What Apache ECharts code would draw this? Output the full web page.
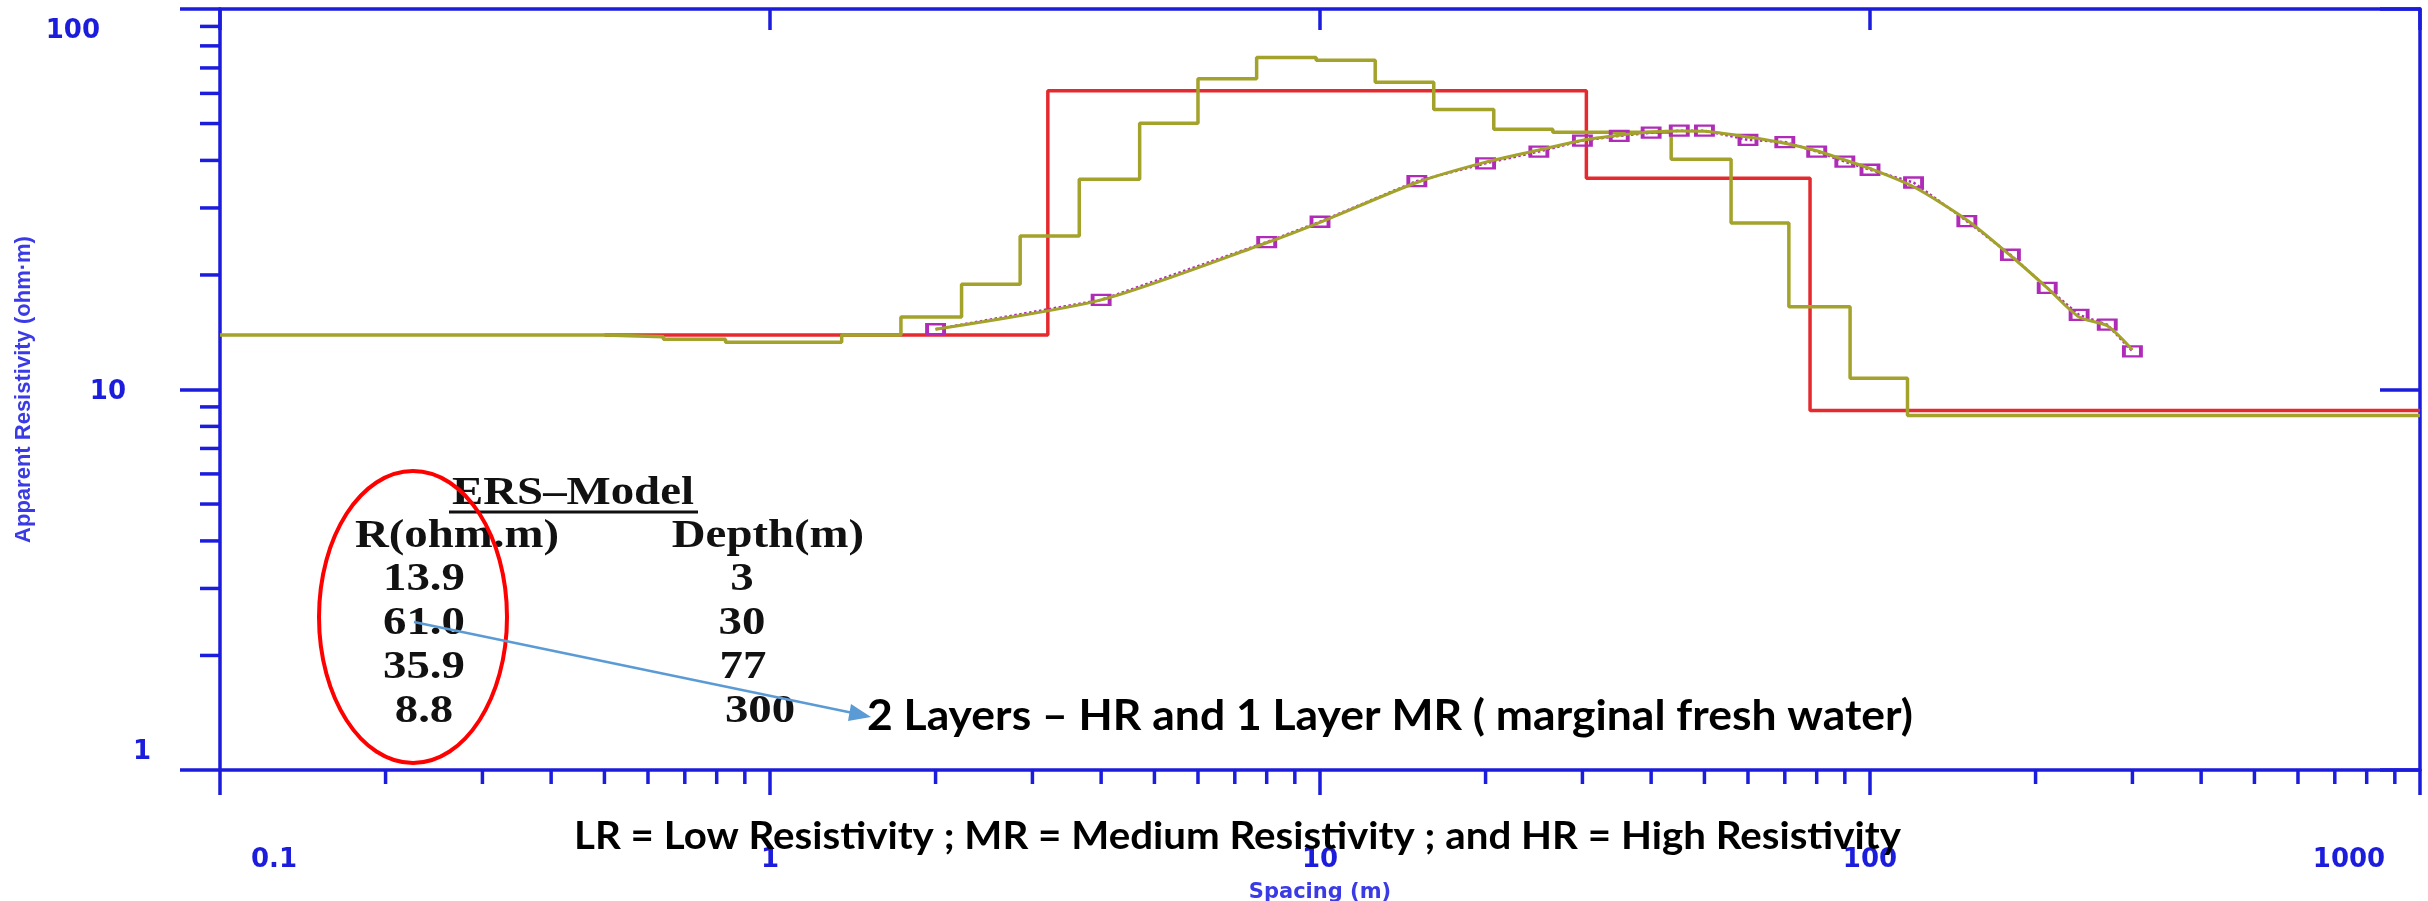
<!DOCTYPE html>
<html>
<head>
<meta charset="utf-8">
<title>Apparent resistivity sounding curve</title>
<script src="https://cdn.jsdelivr.net/npm/echarts@6/dist/echarts.min.js"></script>
<style>
  html, body { margin: 0; padding: 0; background: #fff; }
  #chart { width: 2428px; height: 901px; }
</style>
</head>
<body>
<div id="chart"></div>
<script>
// field sounding: AB/2 spacing (m) and apparent resistivity (ohm.m)
const spacing = [2, 4, 8, 10, 15, 20, 25, 30, 35, 40, 45, 50, 60, 70, 80, 90, 100, 120, 150, 180, 210, 240, 270, 300];
const rhoObserved = [14.4, 17.2, 24.4, 27.6, 35.3, 39.3, 42.2, 45.1, 46.4, 47.3, 47.9, 47.9, 45.3, 44.7, 42.2, 39.7, 37.8, 35.0, 27.7, 22.6, 18.5, 15.7, 14.8, 12.6];
// calculated (fitted) curve
const rhoCalculated = [14.4, 17.2, 24.3, 27.5, 35.0, 39.6, 42.6, 45.2, 46.6, 47.5, 47.8, 47.7, 46.1, 44.4, 42.4, 40.1, 38.1, 34.1, 27.9, 22.5, 18.5, 15.5, 14.7, 12.7];

// layered model (red steps): start depth of each layer and its resistivity
const modelTop = [0.5, 3.2, 30.5, 77.8, 1000];
const modelRho = [13.9, 61.0, 35.9, 8.8, 8.8];

// multi-layer equivalent model (olive steps)
const stepTop = [0.1, 0.5, 0.64, 0.83, 1.35, 1.73, 2.23, 2.85, 3.65, 4.7, 6.0, 7.67, 9.84, 12.6, 16.1, 20.7, 26.5, 43.5, 55.9, 71.2, 92.0, 117, 1000];
const stepRho = [13.9, 13.77, 13.55, 13.3, 13.9, 15.5, 18.9, 25.3, 35.7, 50.1, 65.6, 74.6, 73.3, 64.2, 54.4, 48.3, 47.4, 40.3, 27.4, 16.5, 10.7, 8.55, 8.55];

// ERS model table
const tableRes = ['13.9', '61.0', '35.9', '8.8'];
const tableDepth = ['3', '30', '77', '300'];

// minor tick values
const xMinorTicks = [0.2, 0.3, 0.4, 0.5, 0.6, 0.7, 0.8, 0.9, 2, 3, 4, 5, 6, 7, 8, 9,
  20, 30, 40, 50, 60, 70, 80, 90, 200, 300, 400, 500, 600, 700, 800, 900];
const yMinorTicks = [2, 3, 4, 5, 6, 7, 8, 9, 20, 30, 40, 50, 60, 70, 80, 90];

const BLUE = '#1c1cdc';
const RED = '#e52a2f';
const OLIVE = '#a3a22a';
const PURPLE = '#b02cb8';
const ARROW = '#5b9bd5';

// width fitting for the slide texts
const measureCtx = document.createElement('canvas').getContext('2d');
function fitScale(str, font, target) {
  measureCtx.font = font;
  return target / measureCtx.measureText(str).width;
}

const chart = echarts.init(document.getElementById('chart'));

const labelFont = { color: BLUE, fontFamily: 'DejaVu Sans', fontWeight: 'bold', fontSize: 26 };

// table texts
const serif = 'Liberation Serif';
const rowY = [580, 624, 668, 712];
const depthX = [742, 742, 743, 760];
const tableTexts = [];
tableRes.forEach((t, i) => {
  tableTexts.push({
    type: 'text', x: 424, y: rowY[i], scaleX: 1.17, z: 50,
    style: { text: t, fill: '#111', fontFamily: serif, fontWeight: 'bold', fontSize: 40, align: 'center', verticalAlign: 'middle' }
  });
  tableTexts.push({
    type: 'text', x: depthX[i], y: rowY[i], scaleX: 1.17, z: 50,
    style: { text: tableDepth[i], fill: '#111', fontFamily: serif, fontWeight: 'bold', fontSize: 40, align: 'center', verticalAlign: 'middle' }
  });
});

const noteText = '2 Layers \u2013 HR and 1 Layer MR ( marginal fresh water)';
const legendText = 'LR = Low Resistivity ; MR = Medium Resistivity ; and HR = High Resistivity';

chart.setOption({
  animation: false,
  backgroundColor: '#fff',
  grid: { left: 220, right: 8, top: 9, bottom: 131, containLabel: false, outerBoundsMode: 'none' },
  xAxis: [
    {
      type: 'log', logBase: 10, min: 0.1, max: 1000, position: 'bottom',
      axisLine: { show: true, onZero: false, lineStyle: { color: BLUE, width: 3.5 } },
      axisTick: { show: true, length: 25, lineStyle: { color: BLUE, width: 3.5 } },
      minorTick: { show: false }, splitLine: { show: false },
      axisLabel: Object.assign({
        margin: 77, showMinLabel: true, showMaxLabel: true,
        formatter: function (v) {
          const e = Math.round(Math.log10(v));
          if (e === -1) return '{lo|0.1}';
          if (e === 3) return '{hi|1000}';
          return '{n|' + Math.pow(10, e) + '}';
        },
        rich: {
          lo: { padding: [0, 0, 0, 108] },
          hi: { padding: [0, 142, 0, 0] },
          n: {}
        }
      }, labelFont),
      name: 'Spacing (m)', nameLocation: 'middle', nameGap: 112,
      nameTextStyle: { color: '#3a3ae6', fontFamily: 'DejaVu Sans', fontWeight: 'bold', fontSize: 21 }
    },
    {
      type: 'log', logBase: 10, min: 0.1, max: 1000, position: 'top',
      axisLine: { show: true, onZero: false, lineStyle: { color: BLUE, width: 3.5 } },
      axisTick: { show: true, inside: true, length: 21, lineStyle: { color: BLUE, width: 3.5 } },
      axisLabel: { show: false }, splitLine: { show: false }
    }
  ],
  yAxis: [
    {
      type: 'log', logBase: 10, min: 1, max: 100, position: 'left',
      axisLine: { show: true, onZero: false, lineStyle: { color: BLUE, width: 3.5 } },
      axisTick: { show: true, length: 40, lineStyle: { color: BLUE, width: 3.5 } },
      minorTick: { show: false }, splitLine: { show: false },
      axisLabel: Object.assign({
        margin: 69, showMinLabel: true, showMaxLabel: true,
        formatter: function (v) {
          const e = Math.round(Math.log10(v));
          if (e === 2) return '{a|100}';
          if (e === 1) return '{b|10}';
          return '{c|1}';
        },
        rich: {
          a: { padding: [44, 51, 0, 0] },
          b: { padding: [6, 25, 0, 0] },
          c: { padding: [0, 0, 36, 0] }
        }
      }, labelFont),
      name: 'Apparent Resistivity (ohm\u00b7m)', nameLocation: 'middle', nameGap: 164,
      nameTextStyle: { color: '#3a3ae6', fontFamily: 'Liberation Sans', fontWeight: 'bold', fontSize: 22 }
    },
    {
      type: 'log', logBase: 10, min: 1, max: 100, position: 'right',
      axisLine: { show: true, onZero: false, lineStyle: { color: BLUE, width: 3.5 } },
      axisTick: { show: true, inside: true, length: 40, lineStyle: { color: BLUE, width: 3.5 } },
      axisLabel: { show: false }, splitLine: { show: false }
    }
  ],
  series: [
    {
      // minor ticks on the spacing axis
      type: 'custom', clip: false, silent: true, z: 10,
      data: xMinorTicks.map(v => [v, 1]),
      renderItem: function (params, api) {
        const p = api.coord([api.value(0), 1]);
        return { type: 'line', shape: { x1: p[0], y1: p[1], x2: p[0], y2: p[1] + 14 }, style: { stroke: BLUE, lineWidth: 3.5 } };
      }
    },
    {
      // minor ticks on the resistivity axis
      type: 'custom', clip: false, silent: true, z: 10,
      data: yMinorTicks.map(v => [0.1, v]),
      renderItem: function (params, api) {
        const p = api.coord([0.1, api.value(1)]);
        return { type: 'line', shape: { x1: p[0] - 20, y1: p[1], x2: p[0], y2: p[1] }, style: { stroke: BLUE, lineWidth: 3.5 } };
      }
    },
    {
      name: 'Model', type: 'line', step: 'end', symbol: 'none',
      data: modelTop.map((x, i) => [x, modelRho[i]]),
      lineStyle: { color: RED, width: 3.5 }, z: 2
    },
    {
      name: 'Equivalent', type: 'line', step: 'end', symbol: 'none',
      data: stepTop.map((x, i) => [x, stepRho[i]]),
      lineStyle: { color: OLIVE, width: 3.5 }, z: 3
    },
    {
      name: 'Field data', type: 'line', symbol: 'rect', symbolSize: [17, 10], showSymbol: true,
      data: spacing.map((x, i) => [x, rhoObserved[i]]),
      lineStyle: { color: PURPLE, width: 2.5, type: 'dotted' },
      itemStyle: { color: 'rgba(255,255,255,0)', borderColor: PURPLE, borderWidth: 3 },
      z: 4
    },
    {
      name: 'Calculated', type: 'line', smooth: 0.25, symbol: 'none',
      data: spacing.map((x, i) => [x, rhoCalculated[i]]),
      lineStyle: { color: OLIVE, width: 3 }, z: 5
    }
  ],
  graphic: {
    elements: [
      {
        type: 'text', x: 573, y: 494, scaleX: 1.17, z: 50,
        style: { text: 'ERS\u2013Model', fill: '#111', fontFamily: serif, fontWeight: 'bold', fontSize: 40, align: 'center', verticalAlign: 'middle' }
      },
      { type: 'line', z: 50, shape: { x1: 449, y1: 512, x2: 698, y2: 512 }, style: { stroke: '#111', lineWidth: 3 } },
      {
        type: 'text', x: 457, y: 537, scaleX: 1.17, z: 50,
        style: { text: 'R(ohm.m)', fill: '#111', fontFamily: serif, fontWeight: 'bold', fontSize: 40, align: 'center', verticalAlign: 'middle' }
      },
      {
        type: 'text', x: 768, y: 537, scaleX: 1.17, z: 50,
        style: { text: 'Depth(m)', fill: '#111', fontFamily: serif, fontWeight: 'bold', fontSize: 40, align: 'center', verticalAlign: 'middle' }
      },
      ...tableTexts,
      {
        type: 'ellipse', z: 60, shape: { cx: 413, cy: 617, rx: 94, ry: 146 },
        style: { fill: 'none', stroke: '#ff0000', lineWidth: 4 }
      },
      { type: 'line', z: 60, shape: { x1: 414, y1: 622, x2: 853, y2: 713 }, style: { stroke: ARROW, lineWidth: 2.5 } },
      {
        type: 'polygon', z: 60,
        shape: { points: [[871, 717], [851, 704], [848, 721]] },
        style: { fill: ARROW }
      },
      {
        type: 'text', x: 867, y: 716, z: 50,
        scaleX: fitScale(noteText, 'bold 42px Lato', 1046),
        style: { text: noteText, fill: '#000', fontFamily: 'Lato', fontWeight: 'bold', fontSize: 42, align: 'left', verticalAlign: 'middle' }
      },
      {
        type: 'text', x: 574, y: 837, z: 50,
        scaleX: fitScale(legendText, 'bold 38px Lato', 1327),
        style: { text: legendText, fill: '#000', fontFamily: 'Lato', fontWeight: 'bold', fontSize: 38, align: 'left', verticalAlign: 'middle' }
      }
    ]
  }
});
</script>
</body>
</html>
